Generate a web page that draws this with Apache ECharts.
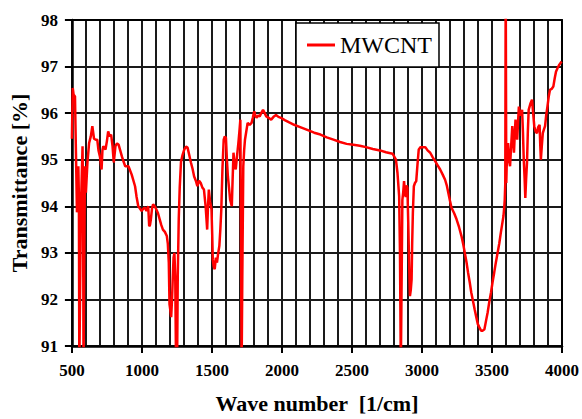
<!DOCTYPE html>
<html>
<head>
<meta charset="utf-8">
<script src="https://cdn.jsdelivr.net/npm/echarts@6/dist/echarts.min.js"></script>
<style>
html,body{margin:0;padding:0;background:#fff;}
#chart{width:582px;height:419px;}
</style>
</head>
<body>
<div id="chart"></div>
<script>
const seriesName = 'MWCNT';
const xTicks = [500, 1000, 1500, 2000, 2500, 3000, 3500, 4000];
const yTicks = [91, 92, 93, 94, 95, 96, 97, 98];
const waveNumber = [
500,506,512,522,529,536,546,550,553,558,564,570,576,580,583,588,593,600,611,623,635,646,658,670,681,690,700,712,718,724,740,750,759,770,780,790,799,811,822,834,845,857,870,881,904,927,951,962,974,986,998,1010,1021,1033,1045,1052,1058,1064,1072,1080,1092,1103,1115,1127,1138,1150,1164,1178,1185,1192,1197,1202,1209,1215,1220,1226,1232,1238,1244,1251,1256,1263,1270,1279,1290,1303,1315,1326,1338,1350,1362,1373,1385,1396,1408,1420,1432,1443,1455,1466,1472,1478,1487,1497,1502,1506,1513,1520,1528,1536,1545,1553,1560,1567,1575,1584,1592,1600,1607,1614,1622,1630,1642,1648,1654,1662,1670,1680,1689,1696,1703,1708,1712,1717,1724,1730,1736,1745,1755,1770,1783,1792,1802,1810,1818,1830,1841,1852,1865,1877,1888,1905,1923,1940,1958,1975,1993,2020,2052,2087,2130,2181,2230,2275,2320,2368,2415,2462,2510,2556,2600,2649,2700,2743,2790,2814,2825,2837,2843,2849,2855,2860,2866,2872,2878,2884,2890,2896,2902,2908,2914,2920,2926,2930,2935,2942,2950,2959,2968,2977,2990,3001,3024,3040,3059,3077,3094,3112,3130,3148,3165,3177,3188,3200,3211,3230,3247,3265,3282,3295,3306,3318,3329,3341,3352,3364,3376,3388,3399,3410,3422,3434,3446,3458,3469,3481,3493,3504,3516,3528,3540,3552,3563,3572,3582,3588,3591,3595,3598,3600,3602,3605,3610,3615,3622,3629,3637,3645,3651,3657,3662,3668,3674,3680,3686,3692,3698,3703,3709,3715,3721,3727,3733,3738,3744,3750,3756,3762,3774,3786,3794,3802,3812,3821,3830,3840,3845,3849,3856,3863,3871,3879,3887,3896,3905,3914,3926,3938,3948,3957,3970,3981,3990,3997,4000
];
const transmittance = [
95.45,96.54,96.4,96.36,95.15,93.87,94.86,94.2,90.5,90.5,93.9,94.6,95.29,94.0,90.5,90.5,94.86,94.29,94.94,95.36,95.5,95.72,95.45,95.43,95.43,95.2,95.07,94.79,95.2,95.29,95.22,95.4,95.61,95.5,95.54,95.3,94.94,95.29,95.35,95.32,95.2,95.07,94.95,94.86,94.86,94.68,94.43,94.2,94.0,93.95,93.9,93.95,93.97,93.9,94.0,93.57,93.6,93.72,93.95,94.04,94.0,93.93,93.85,93.72,93.6,93.5,93.45,93.36,93.2,92.79,91.9,91.79,91.62,92.0,92.43,92.9,93.0,92.5,90.5,90.5,92.5,93.72,94.4,94.95,95.1,95.22,95.28,95.26,95.1,94.94,94.8,94.64,94.55,94.43,94.55,94.5,94.4,94.36,94.0,93.5,94.0,94.36,94.1,93.93,93.4,92.86,92.7,92.65,92.9,92.79,93.0,93.15,93.5,93.93,94.8,95.43,95.5,95.47,95.0,94.64,94.4,94.14,94.0,94.6,95.15,94.9,94.79,95.1,95.36,95.6,95.86,93.0,90.5,92.5,94.86,95.2,95.43,95.6,95.79,95.75,95.79,95.9,96.04,95.95,95.9,95.95,95.93,96.0,96.07,96.0,95.93,95.9,95.86,95.92,95.96,95.92,95.9,95.85,95.8,95.75,95.7,95.64,95.58,95.54,95.48,95.43,95.38,95.34,95.32,95.30,95.27,95.23,95.2,95.16,95.13,95.0,94.72,94.22,93.0,90.5,92.5,94.14,94.3,94.54,94.3,94.2,94.45,94.4,93.65,92.8,92.07,92.2,92.43,93.2,93.86,94.43,94.5,94.54,94.9,95.22,95.27,95.27,95.27,95.2,95.15,95.05,94.97,94.88,94.79,94.68,94.57,94.45,94.29,94.12,93.97,93.85,93.72,93.55,93.36,93.18,93.0,92.8,92.58,92.37,92.15,91.97,91.79,91.62,91.47,91.4,91.33,91.33,91.36,91.55,91.72,91.95,92.15,92.37,92.58,92.8,93.0,93.2,93.43,93.6,93.79,94.0,94.14,94.5,99,99,94.5,94.86,95.1,95.36,95.0,94.86,95.3,95.72,95.4,95.15,95.5,95.86,95.6,95.43,95.8,96.14,96.0,95.95,96.0,96.07,95.6,95.0,94.6,94.18,94.6,94.93,95.6,96.07,96.2,96.29,96.0,95.72,95.6,95.57,95.7,95.75,95.3,95.0,95.3,95.57,95.65,95.72,95.95,96.14,96.35,96.5,96.52,96.57,96.75,96.89,96.98,97.04,97.08,97.11,97.12
];
const xTitle = 'Wave number  [1/cm]';
const yTitle = 'Transmittance [%]';

const points = waveNumber.map((w, i) => [w, transmittance[i]]);
const serif = "'Liberation Serif','Times New Roman',serif";
const gridColor = '#1a1a1a';
const xMin = xTicks[0], xMax = xTicks[xTicks.length - 1];
const yMin = yTicks[0], yMax = yTicks[yTicks.length - 1];

const chart = echarts.init(document.getElementById('chart'), null, {renderer: 'svg'});
chart.setOption({
  animation: false,
  backgroundColor: '#fff',
  grid: {left: 67.5, right: 16, top: 20, bottom: 72.3},
  legend: {
    left: 296, top: 23, z: 10,
    data: [{name: seriesName, icon: 'rect'}],
    itemWidth: 28, itemHeight: 3,
    padding: [10, 7, 10, 11],
    backgroundColor: '#fff',
    borderColor: '#000', borderWidth: 1.5,
    textStyle: {fontFamily: serif, fontSize: 24, color: '#000'}
  },
  xAxis: [{
    type: 'value', min: xMin, max: xMax, interval: 500,
    name: xTitle, nameLocation: 'middle', nameGap: 46,
    nameTextStyle: {fontFamily: serif, fontSize: 22, fontWeight: 'bold', color: '#000'},
    axisLine: {show: true, onZero: false, lineStyle: {color: '#000', width: 2.5}},
    axisTick: {show: true, inside: false, length: 7, lineStyle: {color: '#000', width: 2}},
    axisLabel: {margin: 16, fontFamily: serif, fontSize: 17, fontWeight: 'bold', color: '#000',
      formatter: v => String(v)},
    splitLine: {show: true, lineStyle: {color: gridColor, width: 2}},
    minorTick: {show: true, splitNumber: 5, length: 0},
    minorSplitLine: {show: true, lineStyle: {color: gridColor, width: 2}}
  }, {
    type: 'value', position: 'top', min: xMin, max: xMax, interval: 500,
    axisLine: {show: true, onZero: false, lineStyle: {color: '#000', width: 2}},
    axisTick: {show: false}, axisLabel: {show: false}, splitLine: {show: false}
  }],
  yAxis: [{
    type: 'value', min: yMin, max: yMax, interval: 1,
    name: yTitle, nameLocation: 'middle', nameGap: 34, nameRotate: 90,
    nameTextStyle: {fontFamily: serif, fontSize: 22, fontWeight: 'bold', color: '#000'},
    axisLine: {show: true, onZero: false, lineStyle: {color: '#000', width: 2.5}},
    axisTick: {show: true, inside: false, length: 7, lineStyle: {color: '#000', width: 2}},
    axisLabel: {margin: 14, fontFamily: serif, fontSize: 17, fontWeight: 'bold', color: '#000',
      formatter: v => String(v)},
    splitLine: {show: true, lineStyle: {color: gridColor, width: 2}}
  }, {
    type: 'value', position: 'right', min: yMin, max: yMax, interval: 1,
    axisLine: {show: true, onZero: false, lineStyle: {color: '#000', width: 2}},
    axisTick: {show: false}, axisLabel: {show: false}, splitLine: {show: false}
  }],
  series: [{
    name: seriesName, type: 'line', data: points, xAxisIndex: 0, yAxisIndex: 0,
    showSymbol: false, symbol: 'none', clip: true,
    lineStyle: {color: '#ff0000', width: 2.5},
    itemStyle: {color: '#ff0000'}
  }]
});
</script>
</body>
</html>
